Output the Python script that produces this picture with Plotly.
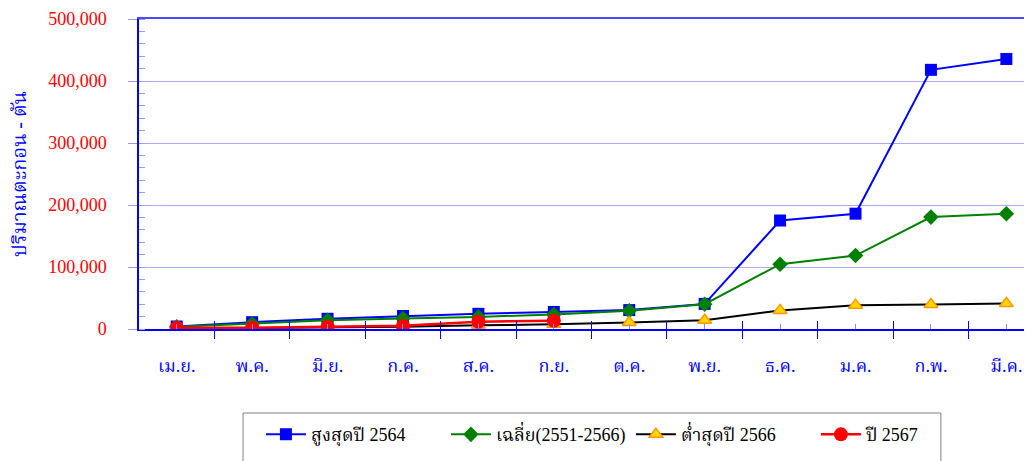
import plotly.graph_objects as go

months = ["เม.ย.", "พ.ค.", "มิ.ย.", "ก.ค.", "ส.ค.", "ก.ย.", "ต.ค.", "พ.ย.", "ธ.ค.", "ม.ค.", "ก.พ.", "มี.ค."]
max_2564 = [4000, 11000, 16500, 21000, 24500, 27500, 30500, 40500, 175000, 186000, 418000, 435500]
avg_2551_2566 = [3500, 8500, 14000, 17000, 19500, 23500, 29500, 40000, 104500, 118500, 180500, 186000]
min_2566 = [800, 1500, 2500, 3500, 6000, 7500, 10500, 14000, 30000, 38500, 39500, 41000]
y_2567 = [2000, 2000, 3800, 5300, 11800, 13400, None, None, None, None, None, None]

tick_vals = [0, 100000, 200000, 300000, 400000, 500000]
tick_text = ["0", "100,000", "200,000", "300,000", "400,000", "500,000"]

x = list(range(len(months)))
FONT = "Liberation Serif, 'Noto Serif Thai', 'Noto Sans Thai', serif"

fig = go.Figure()
fig.add_trace(go.Scatter(x=x, y=max_2564, name="สูงสุดปี 2564", mode="lines+markers",
                         line=dict(color="#0000FF", width=2),
                         marker=dict(symbol="square", size=12, color="#0000FF")))
fig.add_trace(go.Scatter(x=x, y=avg_2551_2566, name="เฉลี่ย(2551-2566)", mode="lines+markers",
                         line=dict(color="#008000", width=2),
                         marker=dict(symbol="diamond", size=12, color="#008000")))
fig.add_trace(go.Scatter(x=x, y=min_2566, name="ต่ำสุดปี 2566", mode="lines+markers",
                         line=dict(color="#000000", width=2),
                         marker=dict(symbol="triangle-up", size=12, color="#FFD700",
                                     line=dict(color="#FF9900", width=1.5))))
fig.add_trace(go.Scatter(x=x, y=y_2567, name="ปี 2567", mode="lines+markers",
                         line=dict(color="#FF0000", width=2.5),
                         marker=dict(symbol="circle", size=14, color="#FF0000")))

# invisible helper traces on overlay axes (boundary ticks crossing inside, top border line)
fig.add_trace(go.Scatter(x=x, y=max_2564, xaxis="x2", yaxis="y", mode="none",
                         showlegend=False, hoverinfo="skip"))
fig.add_trace(go.Scatter(x=x, y=max_2564, xaxis="x3", yaxis="y", mode="none",
                         showlegend=False, hoverinfo="skip"))

xr = [-0.5, 11.34]
fig.update_layout(
    width=1024, height=453,
    margin=dict(l=131, r=0, t=11, b=132, autoexpand=False),
    paper_bgcolor="white", plot_bgcolor="white",
    font=dict(family=FONT, size=18, color="black"),
    showlegend=True,
    legend=dict(orientation="h", xref="container", yref="container",
                x=0.247, y=0.099, xanchor="left", yanchor="top",
                borderwidth=0, bgcolor="rgba(0,0,0,0)",
                font=dict(family=FONT, size=18, color="black"),
                itemwidth=40, entrywidth=130, entrywidthmode="pixels"),
    # legend frame
    shapes=[dict(type="rect", xref="paper", yref="paper",
                 x0=0.1165, x1=0.898, y0=-0.271, y1=-0.46,
                 line=dict(color="#808080", width=1), fillcolor="rgba(0,0,0,0)", layer="below")],
    xaxis=dict(range=xr, tickmode="array", tickvals=x, ticktext=months,
               ticks="inside", ticklen=5, tickcolor="#8888ee", automargin=False,
               tickfont=dict(family=FONT, size=18, color="#0000FF"),
               ticklabelstandoff=20,
               showgrid=False, zeroline=False, showline=True, linecolor="#0000FF", linewidth=1.5,
               minor=dict(tick0=-0.5, dtick=1, ticks="outside", ticklen=8, tickcolor="#0000FF",
                          showgrid=False)),
    xaxis2=dict(range=xr, overlaying="x", anchor="y", side="bottom", automargin=False,
                tickmode="linear", tick0=-0.5, dtick=1, ticks="inside", ticklen=8,
                tickcolor="#0000FF", showticklabels=False, showgrid=False, zeroline=False,
                showline=False),
    xaxis3=dict(range=xr, overlaying="x", anchor="y", side="top", automargin=False,
                ticks="", showticklabels=False, showgrid=False, zeroline=False,
                showline=True, linecolor="#4a4af0", linewidth=1.5),
    yaxis=dict(range=[0, 500000], tickmode="array", tickvals=tick_vals, ticktext=tick_text,
               ticks="outside", ticklen=9, tickcolor="#9999f0", automargin=False,
               tickfont=dict(family=FONT, size=18, color="#FF0000"),
               ticklabelstandoff=18,
               showgrid=True, gridcolor="#aaaaff", gridwidth=1,
               zeroline=False, showline=True, linecolor="#0000FF", linewidth=1.5,
               minor=dict(dtick=20000, ticks="inside", ticklen=6, tickcolor="#9999f0", showgrid=False),
               title=dict(text="ปริมาณตะกอน - ตัน", standoff=19,
                          font=dict(family=FONT, size=20, color="#0000FF"))),
)

fig.write_html("out.html")
